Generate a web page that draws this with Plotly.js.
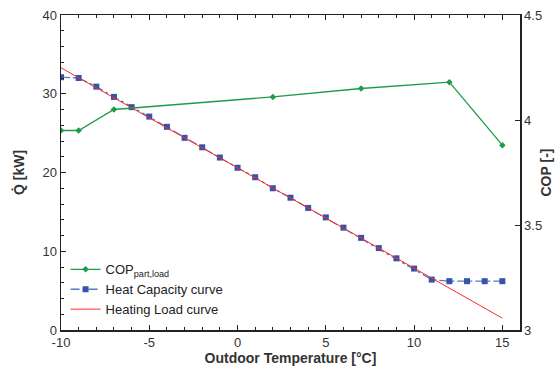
<!DOCTYPE html>
<html><head><meta charset="utf-8">
<script src="https://cdn.plot.ly/plotly-3.0.1.min.js"></script>
<style>html,body{margin:0;padding:0;background:#fff}#chart{width:560px;height:377px}</style>
</head><body><div id="chart"></div>
<script>
const capT = [-10,-9,-8,-7,-6,-5,-4,-3,-2,-1,0,1,2,3,4,5,6,7,8,9,10,11,12,13,14,15];
const capQ = [32.1,32.0,30.9,29.6,28.3,27.1,25.8,24.4,23.2,21.9,20.6,19.4,18.0,16.8,15.5,14.3,13.0,11.7,10.4,9.1,7.8,6.4,6.2,6.2,6.2,6.2];
const loadT = [-10, 15];
const loadQ = [33.3, 1.5];
const copT = [-10,-9,-7,2,7,12,15];
const copV = [3.95,3.95,4.05,4.11,4.15,4.18,3.88];
const xTickVals = [-10,-5,0,5,10,15];
const xTickText = ['-10','-5','0','5','10','15'];

const font = {family:'"Liberation Sans", Arial, sans-serif', color:'#333', size:13};
const titleFont = {size:14, color:'#333', family:font.family, weight:'bold'};
const traces = [
 {x:copT, y:copV, yaxis:'y2', mode:'lines+markers', name:'COP<sub>part,load</sub>',
  line:{color:'#1f9a4a', width:1.3}, marker:{symbol:'diamond', size:5, color:'#1f9a4a'}},
 {x:capT, y:capQ, mode:'lines+markers', name:'Heat Capacity curve',
  line:{color:'#5a78c0', width:1.3, dash:'dashdot'}, marker:{symbol:'square', size:6, color:'#3553a8'}},
 {x:loadT, y:loadQ, mode:'lines', name:'Heating Load curve',
  line:{color:'#ff2a2a', width:1}}
];
const layout = {
 width:560, height:377, margin:{l:61, r:40, t:15, b:47},
 paper_bgcolor:'#fff', plot_bgcolor:'#fff', font:font, showlegend:true,
 xaxis:{range:[-10,16], tickmode:'array', tickvals:xTickVals, ticktext:xTickText, ticks:'inside', ticklen:5, tickcolor:'#222',
   minor:{dtick:1, tick0:0, ticks:'inside', ticklen:3, tickcolor:'#222'},
   showline:true, linecolor:'#222', linewidth:1.5, mirror:'ticks', showgrid:false, zeroline:false,
   title:{text:'Outdoor Temperature [°C]', font:titleFont, standoff:4}},
 yaxis:{range:[0,40], dtick:10, ticks:'inside', ticklen:5, tickcolor:'#222',
   minor:{dtick:2, ticks:'inside', ticklen:3, tickcolor:'#222'},
   showline:true, linecolor:'#222', linewidth:1.5, showgrid:false, zeroline:false,
   title:{text:'Q\u0307 [kW]', font:titleFont, standoff:14}},
 yaxis2:{range:[3,4.5], dtick:0.5, overlaying:'y', side:'right', ticks:'inside', ticklen:5, tickcolor:'#222',
   showline:true, linecolor:'#222', linewidth:1.5, showgrid:false, zeroline:false,
   title:{text:'COP [-]', font:titleFont, standoff:0}},
 legend:{x:0.01, y:0.24, xanchor:'left', yanchor:'top', bgcolor:'rgba(0,0,0,0)',
   font:{size:13, color:'#222', family:font.family}, tracegroupgap:0, itemwidth:30}
};
Plotly.newPlot('chart', traces, layout, {displayModeBar:false, staticPlot:true});
</script></body></html>
